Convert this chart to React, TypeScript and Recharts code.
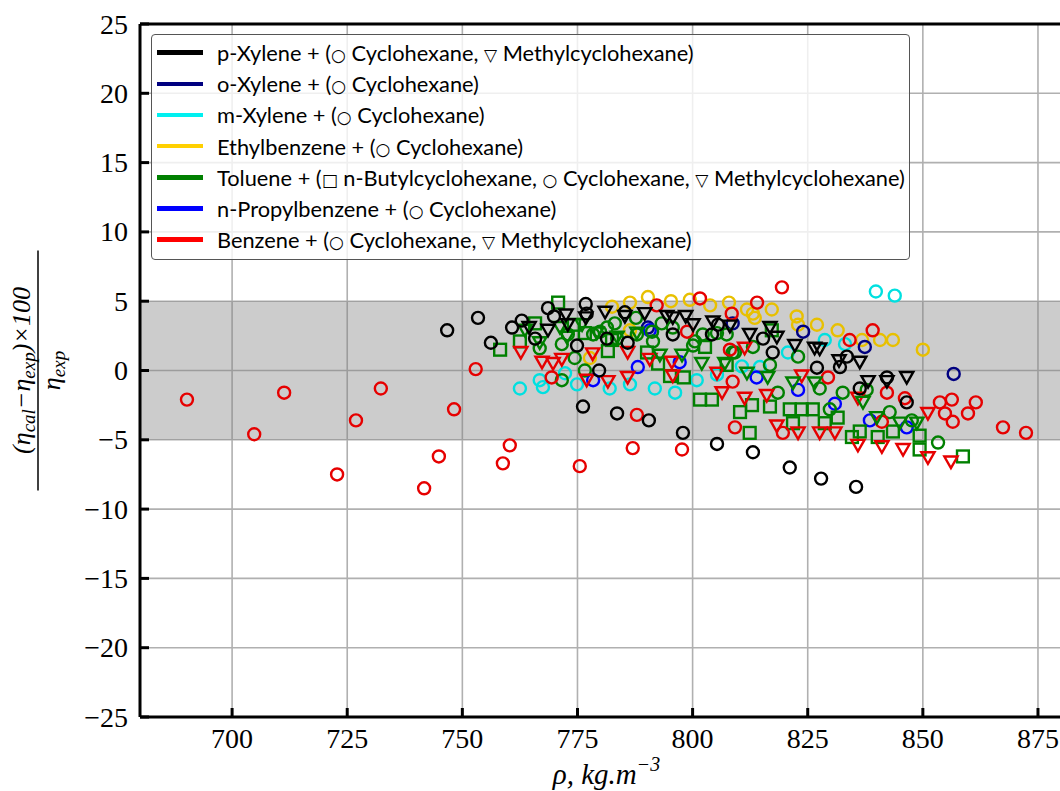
import { ScatterChart, Scatter, XAxis, YAxis, ReferenceArea, CartesianGrid, Legend, Label } from 'recharts'

// axis ticks
const xTicks = [700, 725, 750, 775, 800, 825, 850, 875]
const yTicks = [-25, -20, -15, -10, -5, 0, 5, 10, 15, 20, 25]

// legend
const legendNames = [
  'p-Xylene + (○ Cyclohexane, ▽ Methylcyclohexane)',
  'o-Xylene + (○ Cyclohexane)',
  'm-Xylene + (○ Cyclohexane)',
  'Ethylbenzene + (○ Cyclohexane)',
  'Toluene + (□ n-Butylcyclohexane, ○ Cyclohexane, ▽ Methylcyclohexane)',
  'n-Propylbenzene + (○ Cyclohexane)',
  'Benzene + (○ Cyclohexane, ▽ Methylcyclohexane)',
]
const legendColors = ['#000000', '#000080', '#00f0f0', '#ffd000', '#008000', '#0000ff', '#ff0000']

// [density, deviation %]
const pXyleneCyc = [
  [746.7, 2.9], [753.4, 3.8], [756.2, 2.0], [760.8, 3.1], [762.9, 3.6], [765.8, 2.3], [768.6, 4.5], [769.9, 3.9],
  [774.9, 1.8], [776.8, 4.8], [777.0, 4.1], [779.7, 0.0], [776.2, -2.6], [781.4, 2.3], [783.6, -3.1], [785.3, 4.2],
  [785.9, 2.0], [790.5, -3.6], [795.7, 2.6], [797.9, -4.5], [804.2, 2.6], [805.5, 3.3], [805.3, -5.3], [813.1, -5.9],
  [815.3, 2.3], [817.4, 1.3], [821.1, -7.0], [827.0, 0.2], [827.9, -7.8], [832.0, 0.25], [833.5, 1.0], [835.5, -8.4],
  [836.3, -1.3], [842.2, -0.5], [846.5, -2.3],
]
const pXyleneMch = [
  [764.5, 3.1], [768.6, 2.9], [772.5, 4.0], [772.9, 3.3], [776.8, 3.8], [781.0, 4.2], [785.3, 3.9], [789.6, 4.1],
  [794.4, 3.9], [795.7, 3.8], [798.5, 3.9], [800.1, 3.3], [804.4, 3.5], [808.1, 3.2], [812.4, 2.6], [816.8, 3.1],
  [818.3, 2.4], [822.2, 1.8], [826.5, 1.6], [827.6, 1.55], [831.8, 0.7], [836.3, 0.6], [838.1, -0.8], [842.2, -0.8],
  [846.5, -0.5],
]
const oXyleneCyc = [[790.3, 3.1], [808.7, 3.4], [824.0, 2.8], [837.4, 1.7], [856.7, -0.25]]
const mXyleneCyc = [
  [762.5, -1.3], [766.8, -0.7], [767.5, -1.2], [772.3, -0.2], [774.9, -1.0], [782.0, -1.3], [786.4, -1.0], [791.8, -1.3],
  [796.2, -1.6], [800.9, -0.7], [805.3, -0.3], [810.7, 0.3], [814.6, 0.25], [820.7, 1.3], [828.7, 2.2], [833.1, 1.9],
  [839.8, 5.7], [843.9, 5.4],
]
const ethylbenzeneCyc = [
  [777.7, 0.9], [782.5, 4.6], [786.4, 4.9], [786.4, 2.9], [790.3, 5.3], [795.3, 5.0], [799.4, 5.1], [803.8, 4.7],
  [807.9, 4.9], [811.8, 4.4], [813.1, 4.1], [813.5, 3.8], [817.2, 4.4], [822.6, 3.9], [822.9, 3.3], [827.0, 3.3],
  [831.5, 2.9], [836.8, 2.2], [840.7, 2.2], [843.5, 2.2], [850.0, 1.5],
]
const tolueneBch = [
  [758.2, 1.5], [762.5, 2.1], [765.8, 3.4], [770.8, 4.9], [774.2, 3.3], [776.6, 2.7], [781.6, 1.4], [782.5, 2.2],
  [790.1, 1.3], [792.5, 0.5], [795.1, -0.4], [798.1, -0.5], [801.6, -2.1], [804.2, -2.1], [802.7, 1.7], [807.4, 0.4],
  [810.3, -3.0], [812.4, -4.5], [812.9, -2.5], [816.8, -2.6], [817.2, 2.9], [821.1, -2.8], [821.8, -3.8], [823.7, -2.8],
  [826.1, -2.8], [828.7, -3.8], [831.5, -3.4], [834.6, -4.8], [836.3, -4.4], [840.2, -4.8], [843.5, -4.4], [849.3, -4.7],
  [849.3, -5.7], [858.7, -6.2],
]
const tolueneCyc = [
  [766.8, 1.6], [771.6, 1.9], [772.9, 2.6], [771.6, -0.7], [774.4, 0.9], [776.6, 0.0], [778.4, 2.6], [779.9, 2.8],
  [781.4, 3.1], [783.1, 3.4], [783.6, 2.3], [787.7, 3.8], [787.9, 2.6], [791.2, 2.8], [791.4, 2.1], [793.3, 3.4],
  [795.7, 3.1], [800.1, 1.8], [800.5, 2.1], [802.2, 2.6], [805.3, 2.7], [807.4, 2.6], [808.7, 1.3], [809.2, 1.3],
  [813.1, 1.7], [816.8, 0.4], [818.5, -1.6], [822.9, 1.0], [827.6, -1.3], [829.8, -2.8], [832.6, -1.6], [837.8, -1.4],
  [842.8, -3.0], [847.6, -3.6], [853.3, -5.2],
]
const tolueneMch = [
  [763.6, 2.9], [766.8, 2.0], [771.2, 3.1], [772.7, 2.4], [776.0, 3.3], [779.2, 2.7], [783.6, 2.4], [787.9, 2.7],
  [792.9, 1.1], [797.7, 1.1], [802.0, 0.5], [807.0, 0.5], [811.8, -0.2], [816.3, -0.5], [821.8, -0.9], [826.5, -0.9],
  [837.0, -2.3], [840.0, -3.4], [845.0, -3.8], [848.7, -3.8],
]
const propylbenzeneCyc = [
  [778.4, -0.7], [788.1, 0.25], [790.7, 2.9], [797.2, 0.6], [813.9, -0.5], [822.9, -1.4], [830.9, -2.4], [838.5, -3.6],
  [846.5, -4.1],
]
const benzeneCyc = [
  [690.2, -2.1], [704.8, -4.6], [711.3, -1.6], [722.8, -7.5], [726.9, -3.6], [732.3, -1.3], [741.7, -8.5], [744.9, -6.2],
  [748.2, -2.8], [752.9, 0.1], [758.8, -6.7], [760.3, -5.4], [769.4, -0.5], [775.5, -6.9], [787.0, -5.6], [787.9, -3.2],
  [792.2, 4.7], [797.7, -5.7], [798.8, 2.8], [801.6, 5.2], [808.1, 1.5], [808.5, 4.1], [808.7, -0.8], [809.2, -4.1],
  [814.0, 4.9], [819.4, 6.0], [819.6, -4.5], [829.4, -0.5], [834.1, 2.2], [839.1, 2.9], [841.1, -3.7], [842.2, -1.6],
  [846.1, -2.0], [853.7, -2.3], [854.8, -3.1], [856.3, -2.1], [856.5, -3.7], [859.8, -3.1], [861.5, -2.3], [867.4, -4.1],
  [872.4, -4.5],
]
const benzeneMch = [
  [762.7, 1.3], [767.3, 0.6], [769.7, 0.5], [771.6, 0.8], [777.0, -0.7], [778.3, 1.2], [781.6, -0.8], [785.9, 1.3],
  [785.9, -0.5], [790.7, 0.8], [795.5, 0.6], [795.7, -0.4], [805.3, -0.2], [806.4, -1.6], [811.3, 1.6], [811.3, -2.0],
  [816.1, -1.8], [818.3, -4.0], [822.9, -4.5], [823.7, -0.4], [827.6, -4.5], [830.9, -4.5], [835.9, -2.0], [835.9, -5.4],
  [841.1, -5.5], [845.7, -5.7], [851.1, -6.3], [851.1, -3.1], [856.1, -6.6],
]

const pts = (a: number[][]) => a.map(([x, y]) => ({ x, y }))

const serif = '"Liberation Serif", "DejaVu Serif", serif'
const fmt = (v: number) => (v < 0 ? '\u2212' + Math.abs(v) : String(v))

const marker = (kind: string, color: string) => (p: any) => {
  const { cx, cy } = p
  if (cx == null || cy == null) return <g />
  if (kind === 'o') return <circle cx={cx} cy={cy} r={6} fill="none" stroke={color} strokeWidth={2.4} />
  if (kind === 's') return <rect x={cx - 5.9} y={cy - 5.9} width={11.8} height={11.8} fill="none" stroke={color} strokeWidth={2.4} />
  return <path d={`M${cx - 6.6},${cy - 5.5}L${cx + 6.6},${cy - 5.5}L${cx},${cy + 6.1}Z`} fill="none" stroke={color} strokeWidth={2.4} strokeLinejoin="miter" />
}

const XTick = ({ x, y, payload }: any) => (
  <g>
    <line x1={x} y1={y} x2={x} y2={y - 9} stroke="#000" strokeWidth={3} />
    <text x={x} y={y + 21} textAnchor="middle" dominantBaseline="central" fontFamily={serif} fontSize={28} fill="#000">{fmt(payload.value)}</text>
  </g>
)
const TopTick = ({ x, y }: any) => <line x1={x} y1={y} x2={x} y2={y + 9} stroke="#000" strokeWidth={3} />
const YTick = ({ x, y, payload }: any) => (
  <g>
    <line x1={x} y1={y} x2={x + 9} y2={y} stroke="#000" strokeWidth={3} />
    <text x={x - 12} y={y} textAnchor="end" dominantBaseline="central" fontFamily={serif} fontSize={28} fill="#000">{fmt(payload.value)}</text>
  </g>
)

const YTitle = ({ viewBox }: any) => {
  const cx = viewBox.x + viewBox.width - 102
  const cy = viewBox.y + viewBox.height / 2
  return (
    <g transform={`translate(${cx},${cy}) rotate(-90)`} fontFamily={serif} fontStyle="italic" fill="#000">
      <text x={0} y={-8} textAnchor="middle" fontSize={26}>
        (η<tspan fontSize={19} dy={5}>cal</tspan><tspan dy={-5}>−η</tspan><tspan fontSize={19} dy={5}>exp</tspan><tspan dy={-5}>)×100</tspan>
      </text>
      <line x1={-120} y1={0} x2={120} y2={0} stroke="#000" strokeWidth={1.5} />
      <text x={0} y={22} textAnchor="middle" fontSize={26}>
        η<tspan fontSize={19} dy={5}>exp</tspan>
      </text>
    </g>
  )
}

const XTitle = ({ viewBox }: any) => (
  <text x={viewBox.x + viewBox.width / 2 + 6} y={viewBox.y + 67} textAnchor="middle" fontFamily={serif} fontStyle="italic" fontSize={29} fill="#000">
    ρ, kg.m<tspan fontSize={20} dy={-13}>−3</tspan>
  </text>
)

const Sym = ({ s }: { s: string }) => <span style={{ fontFamily: '"DejaVu Sans"', fontSize: 17 }}>{s}</span>

const LegendBox = () => (
  <div style={{ width: 759, boxSizing: 'border-box', border: '1.3px solid #555', borderRadius: 4, background: 'rgba(255,255,255,0.8)', padding: '2px 6px 4px 5px', fontFamily: 'Lato, "Open Sans", sans-serif', fontSize: 21.8, color: '#000', whiteSpace: 'nowrap' }}>
    {legendNames.map((n, i) => (
      <div key={n} style={{ height: 31.2, display: 'flex', alignItems: 'center' }}>
        <span style={{ width: 46, height: 4.5, background: legendColors[i], marginRight: 14, flex: 'none' }} />
        <span>{n.split(/([○▽□])/).map((t, k) => (/[○▽□]/.test(t) ? <Sym key={k} s={t} /> : t))}</span>
      </div>
    ))}
  </div>
)

const series = [
  { d: ethylbenzeneCyc, k: 'o', c: '#e8c000' },
  { d: mXyleneCyc, k: 'o', c: '#00e0e0' },
  { d: oXyleneCyc, k: 'o', c: '#000080' },
  { d: propylbenzeneCyc, k: 'o', c: '#0000ff' },
  { d: tolueneBch, k: 's', c: '#008000' },
  { d: tolueneCyc, k: 'o', c: '#008000' },
  { d: benzeneCyc, k: 'o', c: '#e60000' },
  { d: benzeneMch, k: 'v', c: '#e60000' },
  { d: tolueneMch, k: 'v', c: '#008000' },
  { d: pXyleneCyc, k: 'o', c: '#000000' },
  { d: pXyleneMch, k: 'v', c: '#000000' },
]

export default function App() {
  return (
    <div style={{ position: 'absolute', left: 0, top: 0, width: 1060, height: 791, overflow: 'hidden', background: '#fff' }}>
      <ScatterChart width={1066} height={791} margin={{ top: 14, right: 5, bottom: 44, left: 80 }}>
        <ReferenceArea y1={-5} y2={5} fill="#808080" fillOpacity={0.4} stroke="none" ifOverflow="hidden" />
        <CartesianGrid stroke="#b0b0b0" strokeWidth={1.6} />
        <XAxis type="number" dataKey="x" domain={[680, 880]} ticks={xTicks} allowDataOverflow height={30} tickSize={0} tickMargin={0}
          tick={<XTick />} tickLine={false} axisLine={{ stroke: '#000', strokeWidth: 3 }} interval={0}>
          <Label content={<XTitle />} />
        </XAxis>
        <XAxis xAxisId="top" orientation="top" type="number" domain={[680, 880]} ticks={xTicks} allowDataOverflow height={10} tickSize={0} tickMargin={0}
          tick={<TopTick />} tickLine={false} axisLine={{ stroke: '#000', strokeWidth: 3 }} interval={0} />
        <YAxis type="number" dataKey="y" domain={[-25, 25]} ticks={yTicks} allowDataOverflow width={60} tickSize={0} tickMargin={0}
          tick={<YTick />} tickLine={false} axisLine={{ stroke: '#000', strokeWidth: 3 }} interval={0}>
          <Label content={<YTitle />} />
        </YAxis>
        <Legend layout="horizontal" verticalAlign="middle" align="center" content={<LegendBox />} wrapperStyle={{ left: 151, top: 34, width: 'auto' }} />
        {series.map((s, i) => (
          <Scatter key={i} data={pts(s.d)} shape={marker(s.k, s.c)} isAnimationActive={false} />
        ))}
      </ScatterChart>
    </div>
  )
}
